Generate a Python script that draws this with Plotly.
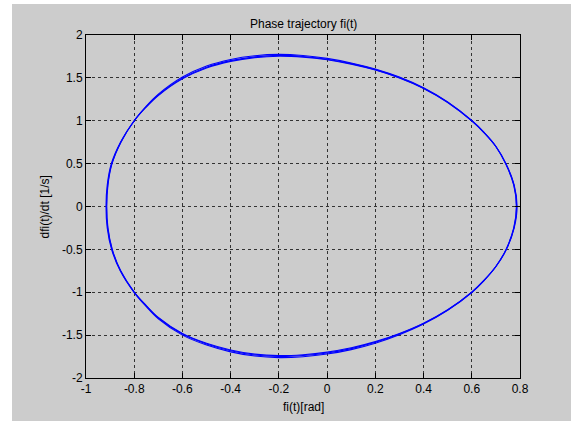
import plotly.graph_objects as go

# ---- data (three nearly overlapping loops) ----
phi_loop1 = [-0.915, -0.910, -0.893, -0.856, -0.8, -0.75, -0.7, -0.6, -0.5, -0.4, -0.3, -0.2, -0.1, 0.0, 0.1, 0.2, 0.3, 0.4, 0.5, 0.6,
             0.65, 0.7, 0.741, 0.775, 0.786, 0.775, 0.743, 0.7, 0.65, 0.6, 0.5, 0.4, 0.3, 0.2, 0.1, 0.0, -0.1, -0.2, -0.3, -0.4,
             -0.5, -0.6, -0.7, -0.75, -0.8, -0.857, -0.892, -0.910, -0.915]
dphi_loop1 = [0.0, 0.25, 0.5, 0.75, 1.0, 1.165, 1.30, 1.497, 1.624, 1.701, 1.745, 1.762, 1.750, 1.718, 1.666, 1.596, 1.503, 1.380, 1.216, 1.0,
              0.865, 0.70, 0.5, 0.25, 0.0, -0.25, -0.5, -0.70, -0.865, -1.0, -1.207, -1.365, -1.487, -1.584, -1.657, -1.708, -1.738, -1.749, -1.731, -1.682,
              -1.603, -1.488, -1.30, -1.16, -1.0, -0.75, -0.5, -0.25, 0.0]

phi_loop2 = [-0.917, -0.912, -0.895, -0.857, -0.8, -0.75, -0.7, -0.6, -0.5, -0.4, -0.3, -0.2, -0.1, 0.0, 0.1, 0.2, 0.3, 0.4, 0.5, 0.6,
             0.65, 0.7, 0.742, 0.776, 0.788, 0.776, 0.744, 0.7, 0.65, 0.6, 0.5, 0.4, 0.3, 0.2, 0.1, 0.0, -0.1, -0.2, -0.3, -0.4,
             -0.5, -0.6, -0.7, -0.75, -0.8, -0.858, -0.894, -0.912, -0.917]
dphi_loop2 = [0.0, 0.25, 0.5, 0.75, 1.0, 1.172, 1.31, 1.51, 1.638, 1.715, 1.758, 1.774, 1.761, 1.727, 1.674, 1.603, 1.509, 1.385, 1.22, 1.003,
              0.867, 0.70, 0.5, 0.25, 0.0, -0.25, -0.5, -0.70, -0.867, -1.003, -1.211, -1.371, -1.495, -1.594, -1.669, -1.721, -1.752, -1.762, -1.744, -1.695,
              -1.616, -1.50, -1.31, -1.168, -1.004, -0.75, -0.5, -0.25, 0.0]

phi_loop3 = [-0.914, -0.909, -0.892, -0.855, -0.8, -0.75, -0.7, -0.6, -0.5, -0.4, -0.3, -0.2, -0.1, 0.0, 0.1, 0.2, 0.3, 0.4, 0.5, 0.6,
             0.65, 0.7, 0.740, 0.774, 0.785, 0.774, 0.742, 0.7, 0.65, 0.6, 0.5, 0.4, 0.3, 0.2, 0.1, 0.0, -0.1, -0.2, -0.3, -0.4,
             -0.5, -0.6, -0.7, -0.75, -0.8, -0.856, -0.891, -0.909, -0.914]
dphi_loop3 = [0.0, 0.25, 0.5, 0.75, 1.0, 1.16, 1.294, 1.489, 1.615, 1.692, 1.736, 1.753, 1.742, 1.711, 1.66, 1.591, 1.499, 1.377, 1.213, 0.998,
              0.863, 0.70, 0.5, 0.25, 0.0, -0.25, -0.5, -0.70, -0.863, -0.998, -1.204, -1.36, -1.48, -1.576, -1.648, -1.698, -1.728, -1.739, -1.722, -1.673,
              -1.595, -1.48, -1.294, -1.155, -0.997, -0.75, -0.5, -0.25, 0.0]

x_ticks = [-1, -0.8, -0.6, -0.4, -0.2, 0, 0.2, 0.4, 0.6, 0.8]
x_tick_labels = ["-1", "-0.8", "-0.6", "-0.4", "-0.2", "0", "0.2", "0.4", "0.6", "0.8"]
y_ticks = [-2, -1.5, -1, -0.5, 0, 0.5, 1, 1.5, 2]
y_tick_labels = ["-2", "-1.5", "-1", "-0.5", "0", "0.5", "1", "1.5", "2"]

title_text = "Phase trajectory fi(t)"
x_label = "fi(t)[rad]"
y_label = "dfi(t)/dt [1/s]"

FONT = "Liberation Sans, Arial, sans-serif"

fig = go.Figure()
for px_, py_ in [(phi_loop1, dphi_loop1), (phi_loop2, dphi_loop2), (phi_loop3, dphi_loop3)]:
    fig.add_trace(go.Scatter(x=px_, y=py_, mode="lines",
                             line=dict(color="#0000ff", width=1.1, shape="spline", smoothing=1.0),
                             showlegend=False, hoverinfo="skip"))

axis_common = dict(showline=True, linecolor="black", linewidth=1, mirror="ticks",
                   ticks="inside", ticklen=5, tickcolor="black",
                   showgrid=True, gridcolor="#333333", gridwidth=1, griddash="3px,3px",
                   zeroline=False, tickfont=dict(family=FONT, size=12, color="black"))

fig.update_xaxes(range=[-1, 0.8], tickvals=x_ticks, ticktext=x_tick_labels, **axis_common)
fig.update_yaxes(range=[-2, 2], tickvals=y_ticks, ticktext=y_tick_labels, **axis_common)

# gray figure background (paper coords computed from margins)
fig.add_shape(type="rect", xref="paper", yref="paper", x0=-0.1705, x1=1.12, y0=-0.13, y1=1.0904,
              fillcolor="#cccccc", line=dict(width=0), layer="below")

fig.add_annotation(text=title_text, xref="paper", yref="paper", x=0.5, y=1.032,
                   showarrow=False, xanchor="center", yanchor="middle",
                   font=dict(family=FONT, size=12, color="black"))
fig.add_annotation(text=x_label, xref="paper", yref="paper", x=0.5, y=-0.0845,
                   showarrow=False, xanchor="center", yanchor="middle",
                   font=dict(family=FONT, size=12, color="black"))
fig.add_annotation(text=y_label, xref="paper", yref="paper", x=-0.0945, y=0.5,
                   showarrow=False, xanchor="center", yanchor="middle", textangle=-90,
                   font=dict(family=FONT, size=12, color="black"))

fig.update_layout(width=571, height=421, margin=dict(l=86, r=51, t=35, b=43),
                  paper_bgcolor="white", plot_bgcolor="white")

fig.write_html("out.html")
